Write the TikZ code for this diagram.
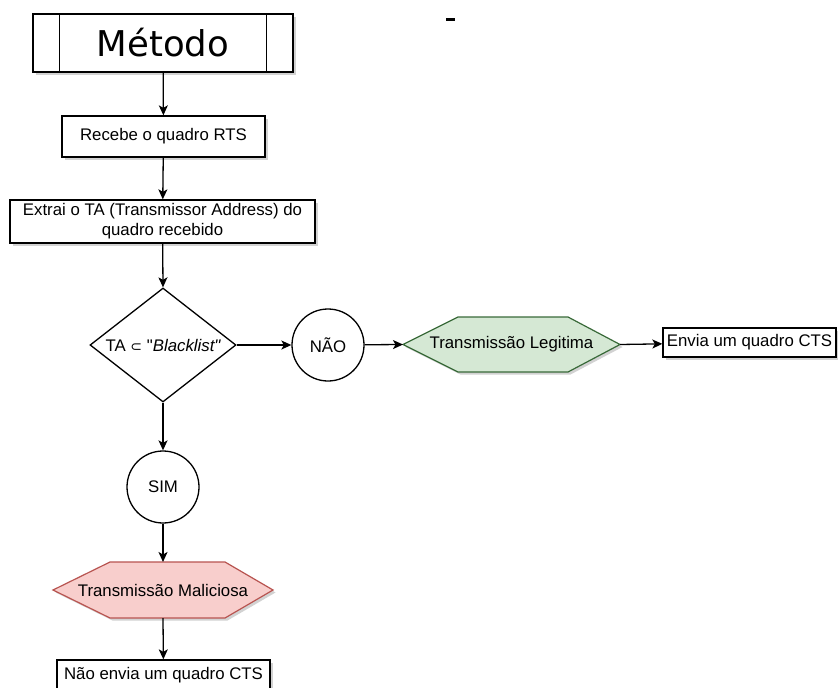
\documentclass[tikz,border=0pt]{standalone}
\usepackage{fontspec}
\setmainfont{Liberation Sans}
\newfontfamily\dejavu{DejaVu Sans}
\newfontfamily\rawsans[Ligatures=TeXOff]{Liberation Sans}
\usetikzlibrary{arrows.meta,shadows,backgrounds,calc,shapes.geometric}
\tikzset{
  shd/.style={drop shadow={shadow xshift=2.5pt, shadow yshift=-2.5pt, opacity=0.25, fill=black!70}},
  txt/.style={font=\fontsize{16.8}{20}\selectfont},
  box/.style={draw=black, line width=1.3pt, fill=white, inner sep=0pt, txt, shd},
  circ/.style={circle, draw=black, line width=1.3pt, fill=white, minimum size=72pt, inner sep=0pt, txt},
  dec/.style={diamond, draw=black, line width=1.3pt, fill=white, inner sep=0pt},
  arr/.style={-{Stealth[length=10pt,width=9pt,inset=2.5pt]}, line width=1.3pt},
  hexgreen/.style={draw=green!35!black!55!gray, fill={rgb,255:red,213;green,232;blue,212}, line width=1.2pt, shd},
  hexred/.style={draw={rgb,255:red,184;green,84;blue,80}, fill={rgb,255:red,248;green,206;blue,204}, line width=1.2pt, shd},
  anchorbox/.style={inner sep=0pt, outer sep=0pt, draw=none},
}
\begin{document}
\begin{tikzpicture}[x=1pt,y=-1pt]
\useasboundingbox (0,0) rectangle (838,688);
\fill[white] (0,0) rectangle (838,688);

% Metodo
\node[box, minimum width=260pt, minimum height=58pt] (met) at (163,43) {};
\draw[line width=1.3pt] ([xshift=27pt]met.north west) -- ([xshift=27pt]met.south west);
\draw[line width=1.3pt] ([xshift=-27pt]met.north east) -- ([xshift=-27pt]met.south east);
\node[font=\dejavu\fontsize{35.5}{40}\selectfont] (mett) at (163,43) {Método};

\node[box, minimum width=203pt, minimum height=41pt] (rts) at (163.5,136.5) {Recebe o quadro RTS};
\node[box, minimum width=305pt, minimum height=43pt, align=center] (ext) at (162.5,221.5) {Extrai o TA (Transmissor Address) do\\quadro recebido};

\node[dec, minimum width=146pt, minimum height=114pt] (dc) at (163,345) {};
\node[txt] (dct) at (dc.center) {TA {\dejavu\fontsize{14}{16}\selectfont ⊂} {\rawsans "\itshape Blacklist"}};

\node[circ] (nao) at (328,345) {NÃO};
\node[circ] (sim) at (163,487) {SIM};

% green hexagon
\node[anchorbox, minimum width=217pt, minimum height=55pt] (lg) at (511.5,344.5) {};
\path[hexgreen] (lg.west) -- ([xshift=55pt]lg.north west) -- ([xshift=-52pt]lg.north east) -- (lg.east) -- ([xshift=-52pt]lg.south east) -- ([xshift=55pt]lg.south west) -- cycle;
\node[txt] (lgt) at (lg.center) {Transmissão Legitima};

% red hexagon
\node[anchorbox, minimum width=220pt, minimum height=56pt] (ml) at (163,590) {};
\path[hexred] (ml.west) -- ([xshift=57pt]ml.north west) -- ([xshift=-48pt]ml.north east) -- (ml.east) -- ([xshift=-48pt]ml.south east) -- ([xshift=57pt]ml.south west) -- cycle;
\node[txt] (mlt) at (ml.center) {Transmissão Maliciosa};

\node[box, minimum width=173pt, minimum height=29pt] (env) at (749.5,342.5) {Envia um quadro CTS};
\node[box, minimum width=213pt, minimum height=30pt] (nenv) at (163.5,675) {Não envia um quadro CTS};

% connectors
\draw[arr] (met) -- (rts);
\draw[arr] (rts) -- (ext);
\draw[arr] (ext) -- (dc.north);
\draw[arr] (dc.east) -- (nao);
\draw[arr] (nao) -- (lg.west);
\draw[arr] (lg.east) -- (env);
\draw[arr] (dc.south) -- (sim);
\draw[arr] (sim) -- (ml.north);
\draw[arr] (ml.south) -- (nenv);

% small dash
\coordinate (d1) at (446,19.5);
\coordinate (d2) at (455,19.5);
\draw[line width=3pt] (d1) -- (d2);
\end{tikzpicture}
\end{document}
